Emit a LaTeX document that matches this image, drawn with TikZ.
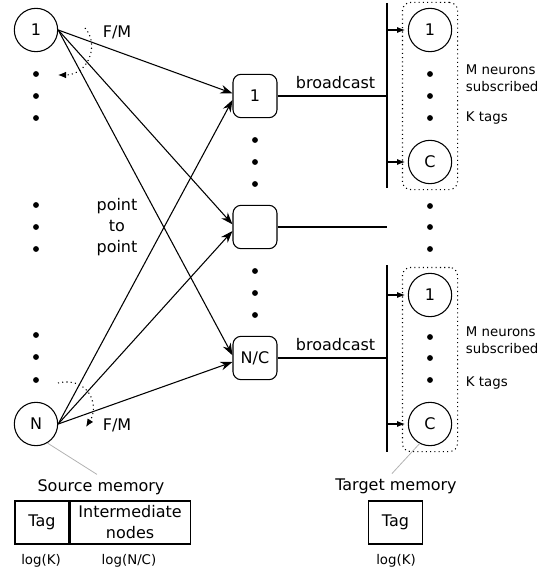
\documentclass[tikz,border=0pt]{standalone}
\usepackage{fontspec}
\setmainfont{DejaVu Sans}
\usetikzlibrary{arrows.meta,fit}

\begin{document}
\begin{tikzpicture}[x=0.75pt, y=-0.75pt, line width=0.8pt,
	neuron/.style={circle, draw, minimum size=32.5pt, inner sep=0pt, font=\fontsize{12}{14}\selectfont},
	hub/.style={draw, rounded corners=6pt, minimum width=33pt, minimum height=32.5pt, inner sep=0pt, font=\fontsize{12}{14}\selectfont},
	lbl/.style={font=\fontsize{12}{15.75}\selectfont, align=center},
	note/.style={font=\fontsize{10}{12.75}\selectfont, align=left},
	cell/.style={draw, minimum height=32.25pt, inner sep=0pt, align=center, font=\fontsize{12}{15.75}\selectfont},
	link/.style={-{Stealth[length=9pt, width=6.5pt]}},
	tap/.style={-{Latex[length=6pt, width=4.5pt]}, shorten >=2pt},
	group/.style={draw, dash pattern=on 0.8pt off 2.4pt, rounded corners=6pt, inner sep=4pt},
	hop/.style={dash pattern=on 0.8pt off 2.4pt, -{Latex[length=6pt, width=5pt]}},
	memline/.style={gray!60, line width=0.6pt}
]
\useasboundingbox (0,0) rectangle (549,574);

% source neurons
\node at (36,30) [neuron] (s1) {1};
\node at (36,424) [neuron] (sN) {N};

% intermediate nodes
\node at (255,96) [hub] (i1) {1};
\node at (255,227) [hub] (iB) {};
\node at (255,358) [hub] (iNC) {N/C};

% target neurons
\node at (430,30) [neuron] (t1) {1};
\node at (430,162) [neuron] (tC) {C};
\node at (430,295) [neuron] (u1) {1};
\node at (430,424) [neuron] (uC) {C};
\node [group, fit=(t1)(tC)] (g1) {};
\node [group, fit=(u1)(uC)] (g2) {};

% dots
\foreach \y in {74,96,118,205,227,249,335,357,380}
	\fill (36,\y) circle (2.2pt);
\foreach \y in {140,162,184,271,293,315}
	\fill (255,\y) circle (2.2pt);
\foreach \y in {74,96,118,206,227,249,337,358,380}
	\fill (430,\y) circle (2.2pt);

% buses
\coordinate (bus1a) at (387,3);
\coordinate (bus1b) at (387,188);
\coordinate (bus2a) at (387,265);
\coordinate (bus2b) at (387,452);
\coordinate (busB) at (387,227);
\draw (bus1a) -- (bus1b);
\draw (bus2a) -- (bus2b);

\draw (i1) -- (bus1a |- i1) node[pos=0.53, above=2pt, lbl] {broadcast};
\draw (iNC) -- (bus2a |- iNC) node[pos=0.53, above=2pt, lbl] {broadcast};
\draw (iB) -- (busB);

\draw [tap] (bus1a |- t1) -- (t1);
\draw [tap] (bus1a |- tC) -- (tC);
\draw [tap] (bus2a |- u1) -- (u1);
\draw [tap] (bus2a |- uC) -- (uC);

% point to point
\foreach \h in {i1,iB,iNC} {
	\draw [link] (s1.east) -- ([yshift=2pt]\h.west);
	\draw [link] (sN.east) -- ([yshift=-3pt]\h.west);
}

% F/M
\draw [hop] (85,28) .. controls (100,45) and (88,75) .. (58,75);
\draw [hop] (58,383) .. controls (88,376) and (100,405) .. (86,427);
\node at (117,32) [lbl] (fm1) {F/M};
\node at (117,425) [lbl] (fm2) {F/M};
\node at (117,227) [lbl] (p2p) {point\\to\\point};

\node at (461,78) [note, anchor=west] (m1) {M neurons\\subscribed};
\node at (461,118) [note, anchor=west] (k1) {K tags};
\node at (461,340) [note, anchor=west] (m2) {M neurons\\subscribed};
\node at (461,383) [note, anchor=west] (k2) {K tags};

% memories
\node at (101,487) [lbl] (srcmem) {Source memory};
\node at (396,486) [lbl] (tgtmem) {Target memory};
\draw [memline] (sN.-59) -- ([xshift=-3pt]srcmem.north);
\draw [memline] (uC.-118) -- ([xshift=-3pt]tgtmem.north);

\node at (42,522.5) [cell, minimum width=40.5pt] (tagS) {Tag};
\node at (tagS.east) [cell, anchor=west, minimum width=90pt] (intS) {Intermediate\\nodes};
\node at (395.5,522.5) [cell, minimum width=41pt] (tagT) {Tag};

\node at (41,561) [note] (lk1) {log(K)};
\node at (129,561) [note] (lnc) {log(N/C)};
\node at (396,561) [note] (lk2) {log(K)};
\end{tikzpicture}
\end{document}
